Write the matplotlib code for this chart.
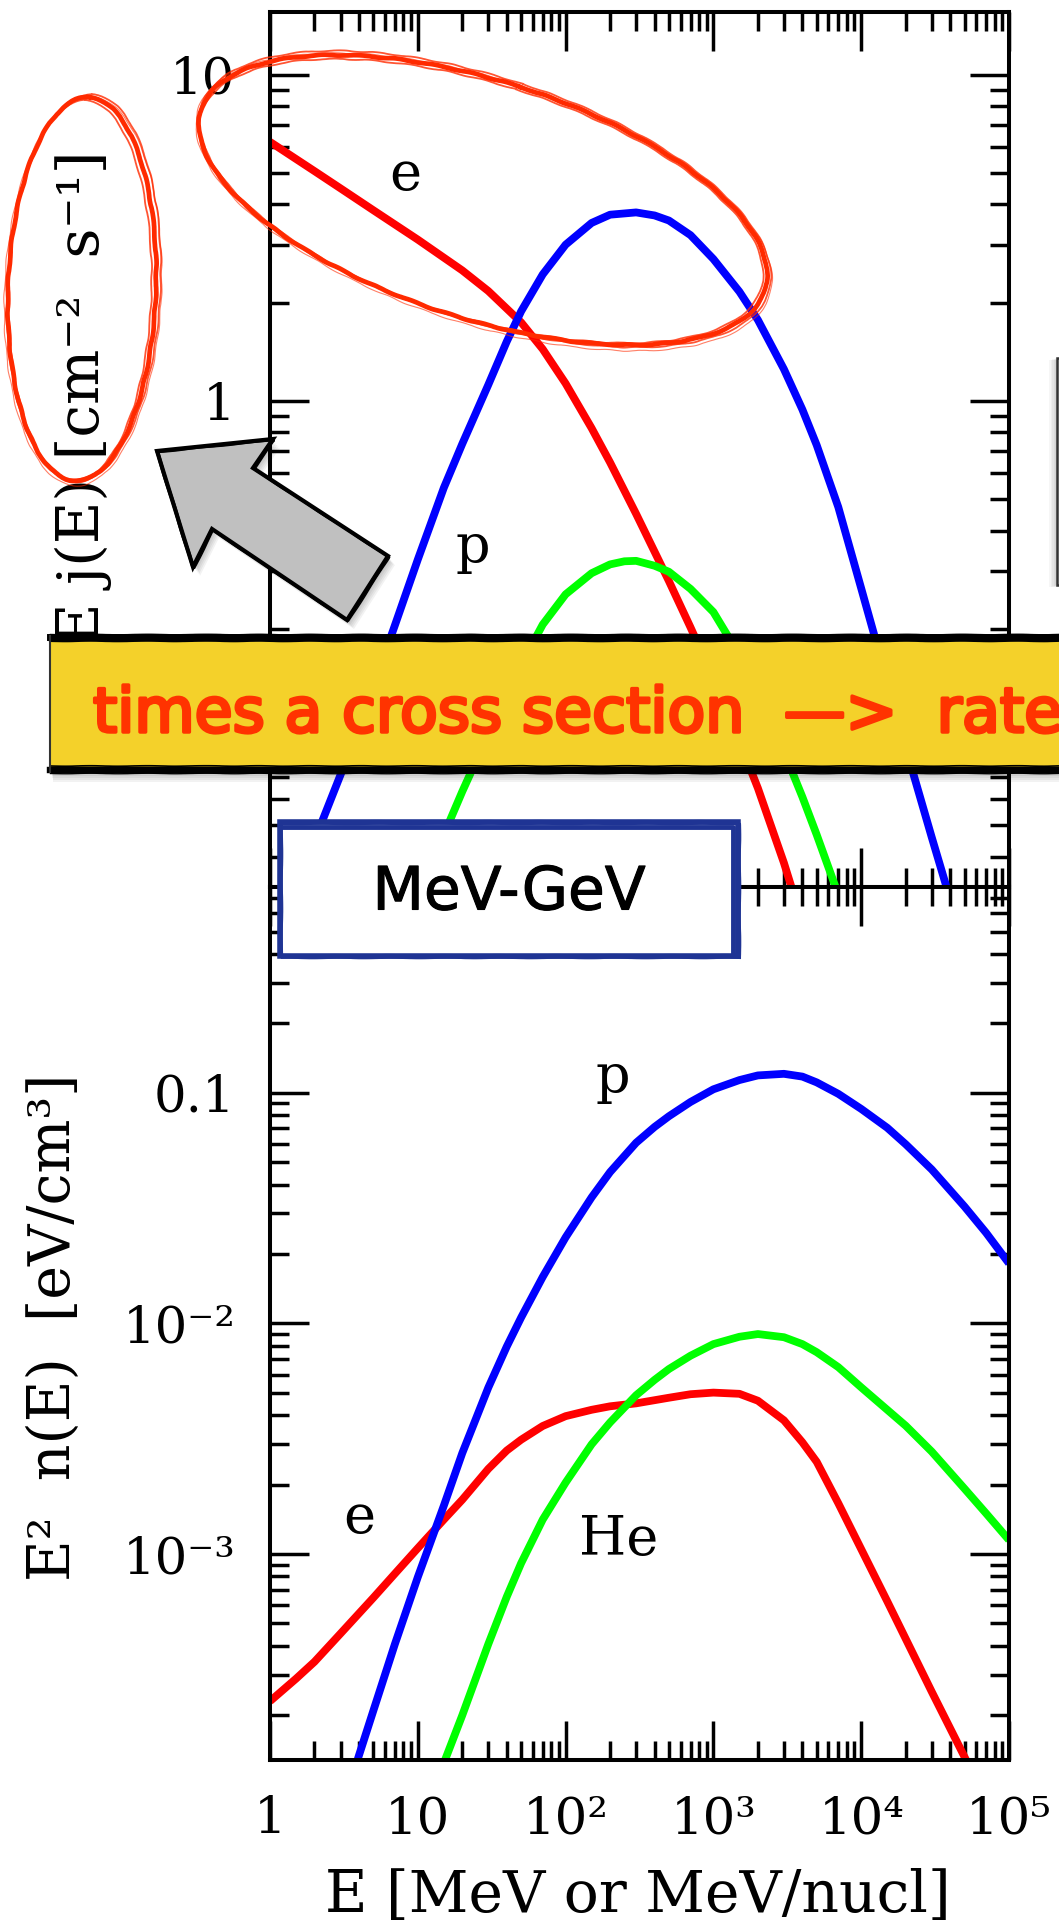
import numpy as np
import matplotlib
matplotlib.use("Agg")
import matplotlib.pyplot as plt
import matplotlib.patheffects as pe
from matplotlib.patches import Ellipse, Polygon
from matplotlib.ticker import LogLocator, FuncFormatter, NullFormatter

W, H, DPI = 1059, 1926, 100

# ---- local interstellar spectra, E in MeV (MeV/nucl for He) ----
# upper panel: E j(E) [cm^-2 s^-1]
E_j_e = [1, 2, 3, 5, 10, 20, 30, 50, 70, 100, 150, 200, 300, 500, 700, 1000, 1500,
         2000, 3000, 4000]
j_e = [6.22, 5.06, 4.48, 3.84, 3.12, 2.51, 2.17, 1.74, 1.44, 1.13, 0.824, 0.647, 0.450,
       0.280, 0.202, 0.141, 0.0904, 0.0649, 0.0383, 0.0252]

E_j_p = [1.4, 1.5, 2, 3, 4, 5, 7, 10, 15, 20, 30, 40, 50, 70, 100, 150, 200, 300, 400,
         500, 700, 1000, 1500, 2000, 3000, 4000, 5000, 7000, 1e4, 1.5e4, 2e4, 3e4, 4e4]
j_p = [0.0299, 0.0324, 0.0448, 0.0713, 0.1007, 0.133, 0.205, 0.326, 0.541, 0.738, 1.12,
       1.52, 1.88, 2.44, 3.01, 3.51, 3.72, 3.78, 3.70, 3.57, 3.22, 2.72, 2.16, 1.77, 1.25,
       0.94, 0.731, 0.472, 0.266, 0.138, 0.0865, 0.0459, 0.0296]

E_j_he = [9, 10, 15, 20, 30, 40, 50, 70, 100, 150, 200, 250, 300, 400, 500, 700, 1000,
          1500, 2000, 3000, 4000, 5000, 7000, 8000]
j_he = [0.027, 0.0303, 0.0467, 0.0634, 0.0951, 0.124, 0.155, 0.206, 0.255, 0.296, 0.315,
        0.322, 0.323, 0.312, 0.299, 0.265, 0.225, 0.166, 0.127, 0.0841, 0.061, 0.0467,
        0.0306, 0.0258]

# lower panel: E^2 n(E) [eV/cm^3]
E_n_e = [1, 1.5, 2, 3, 5, 7, 10, 15, 20, 30, 40, 50, 70, 100, 150, 200, 300, 500, 700,
         1000, 1500, 2000, 3000, 4000, 5000, 7000, 1e4, 1.5e4, 2e4, 3e4, 5e4, 6e4]
n_e = [2.30e-4, 2.88e-4, 3.41e-4, 4.52e-4, 6.46e-4, 8.22e-4, 1.06e-3, 1.41e-3, 1.72e-3,
       2.34e-3, 2.81e-3, 3.13e-3, 3.59e-3, 3.96e-3, 4.22e-3, 4.37e-3, 4.50e-3, 4.76e-3,
       4.93e-3, 5.01e-3, 4.95e-3, 4.62e-3, 3.80e-3, 3.05e-3, 2.51e-3, 1.66e-3, 1.05e-3,
       6.24e-4, 4.29e-4, 2.53e-4, 1.32e-4, 1.04e-4]

E_n_p = [3.5, 4, 5, 7, 10, 15, 20, 30, 40, 50, 70, 100, 150, 200, 300, 400, 500, 700,
         1000, 1500, 2000, 3000, 4000, 5000, 7000, 1e4, 1.5e4, 2e4, 3e4, 5e4, 7e4, 1e5]
n_p = [1.02e-4, 1.34e-4, 2.09e-4, 4.07e-4, 7.94e-4, 1.62e-3, 2.74e-3, 5.27e-3, 7.94e-3,
       1.06e-2, 1.59e-2, 2.36e-2, 3.52e-2, 4.53e-2, 6.07e-2, 7.11e-2, 7.91e-2, 9.12e-2,
       0.1035, 0.1135, 0.1189, 0.1208, 0.1175, 0.1109, 0.0989, 0.0851, 0.0705, 0.0598,
       0.0465, 0.0321, 0.0247, 0.0182]

E_n_he = [14, 15, 20, 30, 40, 50, 70, 100, 150, 200, 300, 400, 500, 700, 1000, 1500,
          2000, 3000, 4000, 5000, 7000, 1e4, 1.5e4, 2e4, 3e4, 5e4, 7e4, 1e5]
n_he = [1.10e-4, 1.24e-4, 2.00e-4, 4.07e-4, 6.53e-4, 9.12e-4, 1.41e-3, 2.04e-3, 2.99e-3,
        3.72e-3, 4.88e-3, 5.69e-3, 6.34e-3, 7.24e-3, 8.13e-3, 8.75e-3, 8.99e-3, 8.71e-3,
        8.13e-3, 7.50e-3, 6.46e-3, 5.28e-3, 4.22e-3, 3.60e-3, 2.78e-3, 1.92e-3, 1.50e-3,
        1.15e-3]

X_LABELS = {0: "1", 1: "10", 2: "10²", 3: "10³", 4: "10⁴", 5: "10⁵"}
Y_UP_LABELS = {0: "1", 1: "10"}
Y_LO_LABELS = {-1: "0.1", -2: "10⁻²", -3: "10⁻³"}

RED, BLUE, GREEN = "#ff0000", "#0000ff", "#00ff00"

plt.rcParams["font.family"] = ["DejaVu Serif", "DejaVu Sans"]


def box(left, top, right, bottom):
    # pixel box -> figure fraction
    return [left / W, 1 - bottom / H, (right - left) / W, (bottom - top) / H]


def fmt(table):
    return FuncFormatter(lambda v, pos: table.get(int(round(np.log10(v))), ""))


def style(ax):
    ax.set_xscale("log")
    ax.set_yscale("log")
    ax.set_xlim(1, 1e5)
    for s in ax.spines.values():
        s.set_linewidth(2.9)
    for axis in (ax.xaxis, ax.yaxis):
        axis.set_major_locator(LogLocator(base=10, numticks=20))
        axis.set_minor_locator(LogLocator(base=10, subs=np.arange(2, 10), numticks=20))
        axis.set_minor_formatter(NullFormatter())
    ax.tick_params(which="both", direction="in", top=True, right=True, width=2.5)
    ax.tick_params(which="major", length=28, pad=25, labelsize=37)
    ax.tick_params(which="minor", length=14)
    ax.xaxis.set_major_formatter(fmt(X_LABELS))


fig = plt.figure(figsize=(W / DPI, H / DPI), dpi=DPI)
lkw = dict(lw=5.6, solid_capstyle="butt", solid_joinstyle="round")

ax_up = fig.add_axes(box(270, 12, 1009, 887))
style(ax_up)
ax_up.set_ylim(0.0323, 15.56)
ax_up.yaxis.set_major_formatter(fmt(Y_UP_LABELS))
ax_up.tick_params(labelbottom=False)
ax_up.plot(E_j_e, j_e, color=RED, **lkw)
ax_up.plot(E_j_p, j_p, color=BLUE, **lkw)
ax_up.plot(E_j_he, j_he, color=GREEN, **lkw)
ax_up.text(8.2, 4.43, "e", fontsize=39, ha="center", va="baseline")
ax_up.text(23.6, 0.318, "p", fontsize=39, ha="center", va="baseline")

ax_lo = fig.add_axes(box(270, 887, 1009, 1760))
style(ax_lo)
ax_lo.set_ylim(1.279e-4, 0.78)
ax_lo.yaxis.set_major_formatter(fmt(Y_LO_LABELS))
ax_lo.plot(E_n_e, n_e, color=RED, **lkw)
ax_lo.plot(E_n_p, n_p, color=BLUE, **lkw)
ax_lo.plot(E_n_he, n_he, color=GREEN, **lkw)
ax_lo.text(209, 0.1, "p", fontsize=39, ha="center", va="baseline")
ax_lo.text(4.03, 1.23e-3, "e", fontsize=39, ha="center", va="baseline")
ax_lo.text(230, 9.9e-4, "He", fontsize=39, ha="center", va="baseline")

# overlay in pixel coordinates for labels and the slide markup
ov = fig.add_axes([0, 0, 1, 1], zorder=10)
ov.set_xlim(0, W)
ov.set_ylim(H, 0)
ov.axis("off")
ov.patch.set_alpha(0)

ov.text(83, 398, "E j(E) [cm⁻²  s⁻¹]", rotation=90, ha="center", va="center", fontsize=42)
ov.text(54, 1327, "E²  n(E)  [eV/cm³]", rotation=90, ha="center", va="center", fontsize=41)
ov.text(638, 1896, "E [MeV or MeV/nucl]", ha="center", va="center", fontsize=42)

ROUGH = dict(scale=0.25, length=60, randomness=2)


def soft_shadow(xy, dx, dy, steps=5, alpha=0.05, z=1):
    xy = np.asarray(xy, float)
    for k in range(1, steps + 1):
        ov.add_patch(Polygon(xy + [dx * k / steps, dy * k / steps], closed=True,
                             fc="black", ec="none", alpha=alpha, zorder=z))


def rough_outline(xy, color, passes, z):
    # one clean heavy stroke plus a couple of thin ragged ones
    xy = np.asarray(xy, float)
    for i, (ox, oy, lw) in enumerate(passes):
        p = Polygon(xy + [ox, oy], closed=True, fill=False, ec=color, lw=lw, zorder=z,
                    joinstyle="miter")
        if i:
            p.set_sketch_params(**ROUGH)
        ov.add_patch(p)


def scribble_ellipse(cx, cy, w, h, ang, color):
    passes = [(0, 0, 0, 0, 0.0, 3.4, 1.0), (2, -1, 5, 4, 0.5, 1.3, 0.8),
              (-2, 1, -5, -4, -0.4, 1.3, 0.8), (1, 2, 9, 6, 0.3, 0.8, 0.6)]
    for ox, oy, dw, dh, da, lw, a in passes:
        e = Ellipse((cx + ox, cy + oy), w + dw, h + dh, angle=ang + da, fill=False,
                    ec=color, lw=lw, alpha=a, zorder=5)
        e.set_sketch_params(scale=0.5, length=40, randomness=2)
        ov.add_patch(e)


# red rings
scribble_ellipse(82, 289, 148, 384, 2, "#ff2a00")
scribble_ellipse(483, 200, 592, 238, 17.8, "#ff2a00")

# grey arrow pointing at the units
arrow = [(157, 451), (273, 439), (253, 468), (388, 556), (347, 620), (212, 529), (193, 567)]
soft_shadow(arrow, 7, 9, steps=6, alpha=0.05, z=3)
ov.add_patch(Polygon(arrow, closed=True, fc="#c0c0c0", ec="none", zorder=4))
rough_outline(arrow, "black", [(0, 0, 3.0), (1.5, 1.5, 1.0), (-1.2, 0.6, 0.8)], z=4)

# yellow banner
ban = [(50, 638), (1080, 638), (1080, 770), (50, 770)]
soft_shadow(ban, 3, 12, steps=6, alpha=0.05, z=6)
ov.add_patch(Polygon(ban, closed=True, fc="#f4d12a", ec="none", zorder=7))
for i, (y0, lw) in enumerate([(637, 5.0), (770, 4.6), (641, 1.5), (634, 1.0), (766, 1.2),
                              (773, 1.0)]):
    ln, = ov.plot([50, 1080], [y0, y0], color="black", lw=lw, zorder=8)
    if i > 1:
        ln.set_sketch_params(**ROUGH)
ov.plot([50, 50], [636, 772], color="#333333", lw=1.5, zorder=8)
ov.text(93, 732, "times a cross section  —>  rate", family="DejaVu Sans", fontsize=44.5,
        color="#ff3300", ha="left", va="baseline", zorder=9,
        path_effects=[pe.withStroke(linewidth=2.5, foreground="#ff3300")])

# energy range tag
tag = [(280, 822), (738, 822), (738, 956), (280, 956)]
ov.add_patch(Polygon(tag, closed=True, fc="white", ec="none", zorder=7))
rough_outline(tag, "#1f3494", [(0, 0, 4.0), (2, 2, 1.5), (-1, -1, 1.2)], z=8)
ov.plot([282, 733, 733], [827, 827, 952], color="#1f3494", lw=3.5, zorder=8)
ov.text(509, 893, "MeV-GeV", family="DejaVu Sans", fontsize=43, color="black",
        ha="center", va="center", zorder=9,
        path_effects=[pe.withStroke(linewidth=0.8, foreground="black")])

# edge of the next slide element
edge = [(1057, 358), (1090, 358), (1090, 585), (1057, 585)]
soft_shadow(edge, -8, 2, steps=5, alpha=0.035, z=3)
ov.add_patch(Polygon(edge, closed=True, fc="white", ec="#333333", lw=1.8, zorder=4))

fig.savefig("out.png", dpi=DPI)
